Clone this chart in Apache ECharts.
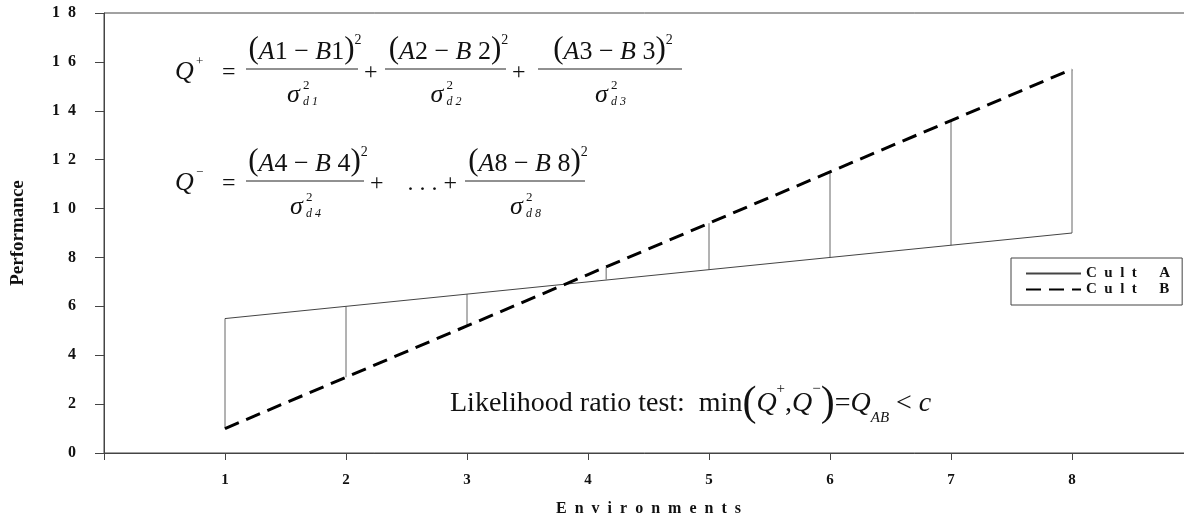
<!DOCTYPE html>
<html><head><meta charset="utf-8">
<script src="https://cdn.jsdelivr.net/npm/echarts@6/dist/echarts.min.js"></script>
<style>html,body{margin:0;padding:0;background:#fff}#c{width:1184px;height:519px}</style>
</head><body><div id="c"></div>
<script>
const environments = [1, 2, 3, 4, 5, 6, 7, 8];
const cultA = [5.5, 6.0, 6.5, 7.0, 7.5, 8.0, 8.5, 9.0];
const cultB = [1.0, 3.1, 5.2, 7.3, 9.4, 11.5, 13.6, 15.7];
// vertical difference lines: [x, lower, upper]
const dropLines = [[1, 1.0, 5.5], [2, 3.1, 6.0], [3, 5.2, 6.5], [4.15, 7.1, 7.6], [5, 7.5, 9.4], [6, 8.0, 11.5], [7, 8.5, 13.6], [8, 9.0, 15.7]];
const seriesNames = ['Cult A', 'Cult B'];
const yTicks = [0, 2, 4, 6, 8, 10, 12, 14, 16, 18];

const SERIF = '"Liberation Serif", "Times New Roman", serif';
const EN = '\u2002';
const spacedWords = (s, g, w) => s.split(' ').map(word => word.split('').join(g)).join(w);

function txt(x, y, text, size, italic, align) {
  return {type: 'text', x: x, y: y, z: 10, style: {text: text, font: (italic ? 'italic ' : '') + size + 'px ' + SERIF,
    fill: '#111', textAlign: align || 'left', textVerticalAlign: 'middle'}};
}
function richNum(cx, cy, a, na, b, nb) {
  return {type: 'text', x: cx, y: cy, z: 10, style: {
    text: '{p|(}{v|' + a + '}{n|' + na + ' − }{v|' + b + '}{n|' + nb + '}{p|)}{s|2}',
    textAlign: 'center', textVerticalAlign: 'middle', fill: '#111',
    rich: {
      p: {fontFamily: SERIF, fontSize: 31, lineHeight: 32, verticalAlign: 'bottom'},
      v: {fontFamily: SERIF, fontStyle: 'italic', fontSize: 26, lineHeight: 32, verticalAlign: 'bottom'},
      n: {fontFamily: SERIF, fontSize: 26, lineHeight: 32, verticalAlign: 'bottom'},
      s: {fontFamily: SERIF, fontSize: 14, lineHeight: 32, verticalAlign: 'top'}
    }}};
}
function bar(x1, x2, y) {
  return {type: 'line', z: 10, shape: {x1: x1, y1: y, x2: x2, y2: y}, style: {stroke: '#222', lineWidth: 1}};
}
function sigma(cx, y, sub) {
  return [txt(cx - 9, y + 26, 'σ', 26, true, 'left'), txt(cx + 7, y + 17, '2', 13, false, 'left'),
          txt(cx + 7, y + 33, sub, 12, true, 'left')];
}
function frac(x1, x2, yBar, a, na, b, nb, sub) {
  const cx = (x1 + x2) / 2;
  return [richNum(cx + 3, yBar - 20, a, na, b, nb), bar(x1, x2, yBar)].concat(sigma(cx - 6, yBar, sub));
}

const gfx = [].concat(
  [txt(175, 72, 'Q', 26, true), txt(196, 62, '+', 13, false), txt(222, 73, '=', 24, false)],
  frac(246, 358, 69, 'A', '1', 'B', '1', 'd 1'),
  [txt(364, 73, '+', 24, false)],
  frac(385, 506, 69, 'A', '2', 'B', ' 2', 'd 2'),
  [txt(512, 73, '+', 24, false)],
  frac(538, 682, 69, 'A', '3', 'B', ' 3', 'd 3'),
  [txt(175, 183, 'Q', 26, true), txt(196, 173, '−', 13, false), txt(222, 184, '=', 24, false)],
  frac(246, 364, 181, 'A', '4', 'B', ' 4', 'd 4'),
  [txt(370, 184, '+    . . . +', 24, false)],
  frac(465, 585, 181, 'A', '8', 'B', ' 8', 'd 8'),
  [{type: 'text', x: 450, y: 404, z: 10, style: {
    text: '{n|Likelihood ratio test:  min}{p|(}{v|Q}{s|+}{n|,}{v|Q}{s|−}{p|)}{n|=}{v|Q}{b|AB}{n| < }{v|c}',
    textVerticalAlign: 'middle', fill: '#111',
    rich: {
      n: {fontFamily: SERIF, fontSize: 28, lineHeight: 44, verticalAlign: 'middle'},
      v: {fontFamily: SERIF, fontStyle: 'italic', fontSize: 28, lineHeight: 44, verticalAlign: 'middle'},
      p: {fontFamily: SERIF, fontSize: 42, lineHeight: 44, verticalAlign: 'middle'},
      s: {fontFamily: SERIF, fontSize: 15, lineHeight: 40, verticalAlign: 'top'},
      b: {fontFamily: SERIF, fontStyle: 'italic', fontSize: 15, lineHeight: 32, verticalAlign: 'bottom'}
    }}}]
);

const chart = echarts.init(document.getElementById('c'), null, {renderer: 'canvas'});
chart.setOption({
  animation: false,
  backgroundColor: '#fff',
  grid: {left: 104, top: 13, bottom: 66, right: -9, outerBoundsMode: 'none', containLabel: false,
         show: true, borderColor: '#444', borderWidth: 1, backgroundColor: 'transparent'},
  legend: {
    orient: 'vertical', left: 1011, top: 258, data: seriesNames,
    itemWidth: 55, itemHeight: 14, itemGap: 1,
    borderColor: '#444', borderWidth: 1, padding: [8, 12, 8, 14],
    itemStyle: {opacity: 0},
    formatter: n => spacedWords(n, EN, EN + EN + EN),
    textStyle: {fontFamily: SERIF, fontWeight: 'bold', fontSize: 15, color: '#111'}
  },
  xAxis: {
    type: 'value', min: 0, max: 9, interval: 1,
    name: spacedWords('Environments', EN, EN), nameLocation: 'middle', nameGap: 48,
    nameTextStyle: {fontFamily: SERIF, fontWeight: 'bold', fontSize: 16, color: '#111'},
    axisLine: {lineStyle: {color: '#444', width: 1}},
    axisTick: {show: true, length: 7, inside: false, lineStyle: {color: '#444'}},
    axisLabel: {margin: 20, fontFamily: SERIF, fontWeight: 'bold', fontSize: 15, color: '#111',
      formatter: v => environments.indexOf(v) >= 0 ? String(v) : ''},
    splitLine: {show: false}
  },
  yAxis: {
    type: 'value', min: yTicks[0], max: yTicks[yTicks.length - 1], interval: 2,
    name: 'Performance', nameLocation: 'middle', nameGap: 76, nameRotate: 90,
    nameTextStyle: {fontFamily: SERIF, fontWeight: 'bold', fontSize: 19, color: '#111'},
    axisLine: {show: true, lineStyle: {color: '#444', width: 1}},
    axisTick: {show: true, length: 9, lineStyle: {color: '#444'}},
    axisLabel: {margin: 28, fontFamily: SERIF, fontWeight: 'bold', fontSize: 16, color: '#111',
      formatter: v => String(v).split('').join(EN)},
    splitLine: {show: false}
  },
  series: [
    {name: seriesNames[0], type: 'line', data: environments.map((x, i) => [x, cultA[i]]),
     symbol: 'none', lineStyle: {color: '#444', width: 1}, itemStyle: {color: '#444'}, z: 3},
    {name: seriesNames[1], type: 'line', data: environments.map((x, i) => [x, cultB[i]]),
     symbol: 'none', lineStyle: {color: '#000', width: 3, type: [15, 8]}, itemStyle: {color: '#000'}, z: 4},
    {name: 'diff', type: 'custom', data: dropLines, z: 2,
     renderItem: (params, api) => {
       const p1 = api.coord([api.value(0), api.value(1)]);
       const p2 = api.coord([api.value(0), api.value(2)]);
       return {type: 'line', shape: {x1: p1[0], y1: p1[1], x2: p2[0], y2: p2[1]},
               style: {stroke: '#666', lineWidth: 1}};
     }}
  ],
  graphic: gfx
});
</script></body></html>
